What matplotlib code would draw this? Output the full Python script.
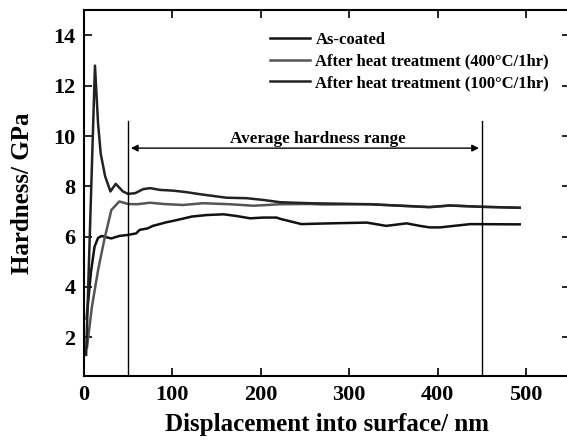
import numpy as np
import matplotlib.pyplot as plt

plt.rcParams['font.family'] = ['Liberation Serif', 'DejaVu Serif']
plt.rcParams['font.weight'] = 'bold'

# As-coated
x_ac = [3, 8, 12, 16, 20, 25, 31, 40, 50, 59, 63, 72, 78, 93, 105, 122, 139, 158, 173, 188,
        203, 218, 222, 246, 278, 320, 342, 365, 380, 391, 403, 437, 493]
y_ac = [2.75, 4.6, 5.6, 5.95, 6.03, 5.98, 5.93, 6.03, 6.07, 6.13, 6.27, 6.33, 6.43, 6.57, 6.66, 6.8, 6.86,
        6.89, 6.82, 6.73, 6.76, 6.76, 6.71, 6.5, 6.53, 6.56, 6.43, 6.53, 6.43, 6.37, 6.37, 6.5, 6.49]

# After heat treatment 400C/1hr
x_400 = [3.5, 9, 16, 23, 31, 40, 50, 60, 75, 90, 112, 135, 165, 192, 222, 256, 270, 323, 391, 414, 448, 493]
y_400 = [1.6, 3.2, 4.67, 5.87, 7.06, 7.4, 7.3, 7.29, 7.35, 7.3, 7.26, 7.33, 7.29, 7.23, 7.29, 7.3, 7.28,
         7.29, 7.17, 7.24, 7.19, 7.15]

# After heat treatment 100C/1hr
x_100 = [2.5, 12.5, 16, 19, 24, 30, 36, 44, 50, 58, 67, 75, 86, 101, 116, 131, 146, 161, 184, 203,
         222, 256, 323, 391, 414, 448, 493]
y_100 = [1.3, 12.8, 10.5, 9.3, 8.4, 7.8, 8.1, 7.8, 7.7, 7.73, 7.89, 7.93, 7.86, 7.83, 7.77, 7.69, 7.62,
         7.55, 7.53, 7.46, 7.37, 7.33, 7.29, 7.18, 7.24, 7.19, 7.15]

fig = plt.figure(figsize=(5.67, 4.41), dpi=100)
ax = fig.add_axes([0.148, 0.1467, 0.8575, 0.830])

ax.plot(x_ac, y_ac, color='#111111', lw=1.8, label='As-coated')
ax.plot(x_400, y_400, color='#555555', lw=1.8, label='After heat treatment (400\u00b0C/1hr)')
ax.plot(x_100, y_100, color='#222222', lw=1.8, label='After heat treatment (100\u00b0C/1hr)')

ax.plot([50, 50], [0.45, 10.6], color='black', lw=1)
ax.plot([450, 450], [0.45, 10.6], color='black', lw=1)
ax.annotate('', xy=(50, 9.52), xytext=(450, 9.52),
            arrowprops=dict(arrowstyle='<|-|>', color='black', lw=1, mutation_scale=10))
ax.text(265, 9.9, 'Average hardness range', ha='center', va='center', fontsize=12.3, fontweight='bold')

ax.set_xlim(0, 550)
ax.set_ylim(0.45, 15)
ax.set_xticks([0, 100, 200, 300, 400, 500])
ax.set_yticks([2, 4, 6, 8, 10, 12, 14])
ax.tick_params(direction='in', length=6, width=1.2, top=True, right=True, labelsize=16, pad=6)
for s in ax.spines.values():
    s.set_linewidth(1.5)

ax.set_xlabel('Displacement into surface/ nm', fontsize=18, fontweight='bold', labelpad=6)
ax.set_ylabel('Hardness/ GPa', fontsize=18, fontweight='bold', labelpad=14)

ax.legend(loc='upper left', bbox_to_anchor=(0.37, 0.96), frameon=False, fontsize=12,
          handlelength=2.4, handletextpad=0.3, labelspacing=0.35, borderaxespad=0)

fig.savefig('out.png', dpi=100)
